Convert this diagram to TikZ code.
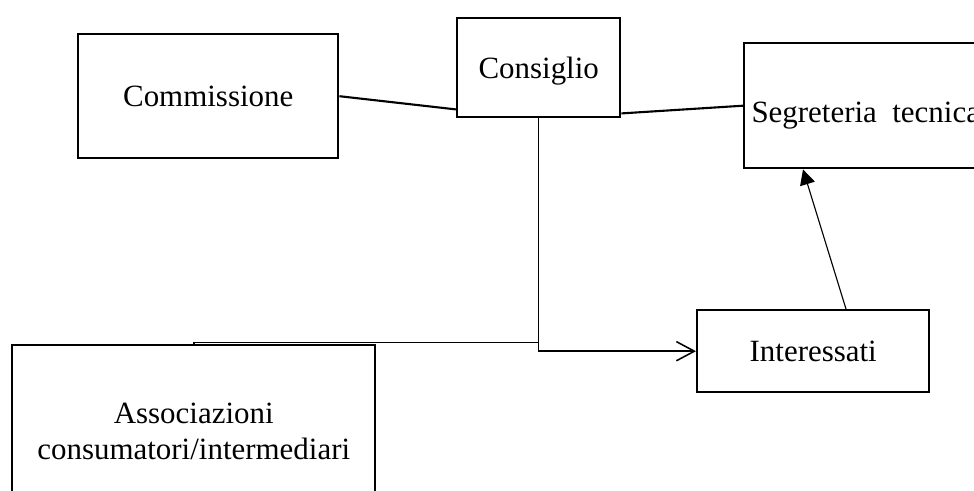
\documentclass[tikz,border=0pt]{standalone}
\usepackage{fontspec}
\setmainfont{Liberation Serif}
\usepackage{tikz}
\usetikzlibrary{shapes}
\usetikzlibrary{calc}
\usetikzlibrary{arrows.meta}

\begin{document}
\begin{tikzpicture}[x=0.025cm, y=-0.025cm,
    font=\fontsize{22}{25.6}\selectfont,
    box/.style={draw, rectangle, line width=1.7pt, inner sep=0pt, anchor=north west},
    link/.style={line width=1.5pt}]
  \path[use as bounding box, clip] (0,0) rectangle (974,491);

  \node[box, minimum width=6.5cm, text height=1.8cm, text depth=1.3cm] (commissione) at (77,33) {Commissione};
  \node[box, minimum width=4.075cm, text height=1.5cm, text depth=0.975cm] (consiglio) at (456,17) {Consiglio};
  \node[box, minimum width=6.075cm, text height=1.975cm, text depth=1.15cm] (segreteria) at (743,42) {Segreteria\ \ tecnica};
  \node[box, minimum width=5.8cm, text height=1.275cm, text depth=0.775cm] (interessati) at (696,309) {Interessati};
  \node[box, align=center, minimum width=9.075cm, minimum height=4.3cm] (associazioni) at (11,344) {Associazioni \\ consumatori/intermediari};

  \draw[link] (commissione.east) -- ($(consiglio.south west)+(0,-9)$);
  \draw[link] ($(consiglio.south east)+(0,-5)$) -- (segreteria.west);

  \coordinate (split) at ($(consiglio.south)+(0,224)$);
  \draw[line width=1.3pt] (split) -| (associazioni.north);
  \draw[line width=1.1pt, -{Straight Barb[length=4.5mm, width=4.8mm]}] (consiglio.south) |- (interessati.west);

  \draw[line width=0.8pt, -{Triangle[length=3.8mm, width=3.8mm]}] ($(interessati.north west)+(150,0)$) -- ($(segreteria.south west)+(60,0)$);
\end{tikzpicture}
\end{document}
